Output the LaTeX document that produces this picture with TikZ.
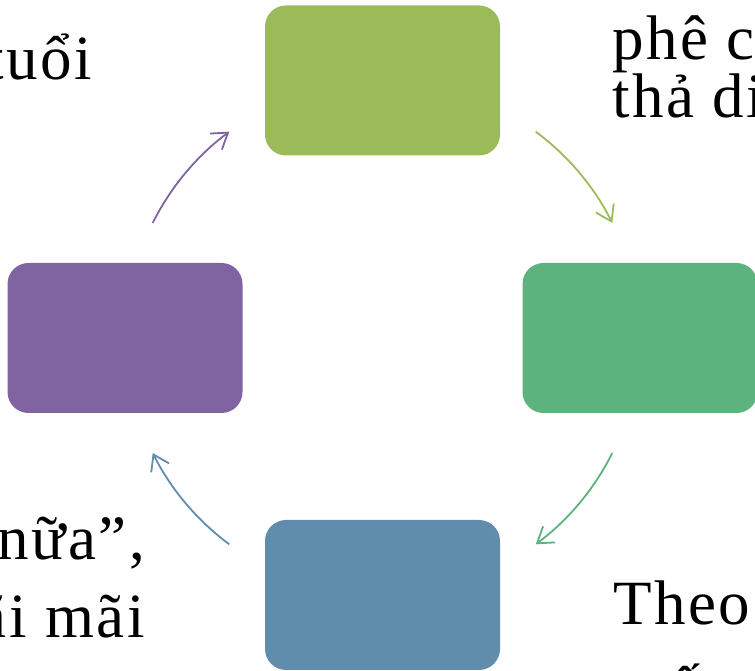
\documentclass[tikz,border=0pt]{standalone}
\usepackage{fontspec}
\setmainfont{Liberation Serif}
\newfontfamily\bigserif[LetterSpace=4]{Liberation Serif}
\usetikzlibrary{arrows.meta,calc}
\definecolor{cgreenA}{HTML}{9BBB59}
\definecolor{cgreenB}{HTML}{5DB37E}
\definecolor{cblue}{HTML}{5F8DAB}
\definecolor{cpurple}{HTML}{8064A2}
\tikzset{
  box/.style={rounded corners=21pt, minimum width=235pt, minimum height=150pt, inner sep=0pt, draw=none},
  cyc/.style={line width=1.8pt, -{Straight Barb[length=15pt,width=20pt,line width=1.8pt]}},
  bigtext/.style={inner sep=0pt, font=\bigserif\fontsize{63}{58}\selectfont, text=black}
}
\begin{document}
\begin{tikzpicture}[x=1pt,y=1pt]
\useasboundingbox (0,0) rectangle (755,671);
\clip (0,0) rectangle (755,671);
% boxes
\node[box, fill=cgreenA] (top) at (382.5,590.5) {};
\node[box, fill=cgreenB] (right) at (640,333) {};
\node[box, fill=cblue] (bottom) at (382.5,76) {};
\node[box, fill=cpurple] (left) at (125,333) {};
% circle of connectors
\coordinate (c) at (382.5,333);
\coordinate (a1) at ($(c)+(153.4:257)$);
\coordinate (a2) at ($(c)+(53.4:257)$);
\coordinate (a3) at ($(c)+(-26.6:257)$);
\coordinate (a4) at ($(c)+(-126.6:257)$);
\draw[cyc, cpurple] (a1) arc[start angle=153.4, end angle=126.6, radius=257];
\draw[cyc, cgreenA] (a2) arc[start angle=53.4, end angle=26.6, radius=257];
\draw[cyc, cgreenB] (a3) arc[start angle=-26.6, end angle=-53.4, radius=257];
\draw[cyc, cblue] (a4) arc[start angle=-126.6, end angle=-153.4, radius=257];
% texts
\node[bigtext, anchor=base east] (t1) at (92,591) {tuổi};
\node[bigtext, anchor=base west] (t2) at (612,611) {phê c};
\node[bigtext, anchor=base west] (t3) at (612,553) {thả di};
\node[bigtext, anchor=base east] (t4) at (145,111) {nữa”,};
\node[bigtext, anchor=base east] (t5) at (145,33) {mãi mãi};
\node[bigtext, anchor=base west] (t6) at (613,46) {Theo};
\node[bigtext, anchor=base west] (t7) at (670,-39) {ấ};
\end{tikzpicture}
\end{document}
